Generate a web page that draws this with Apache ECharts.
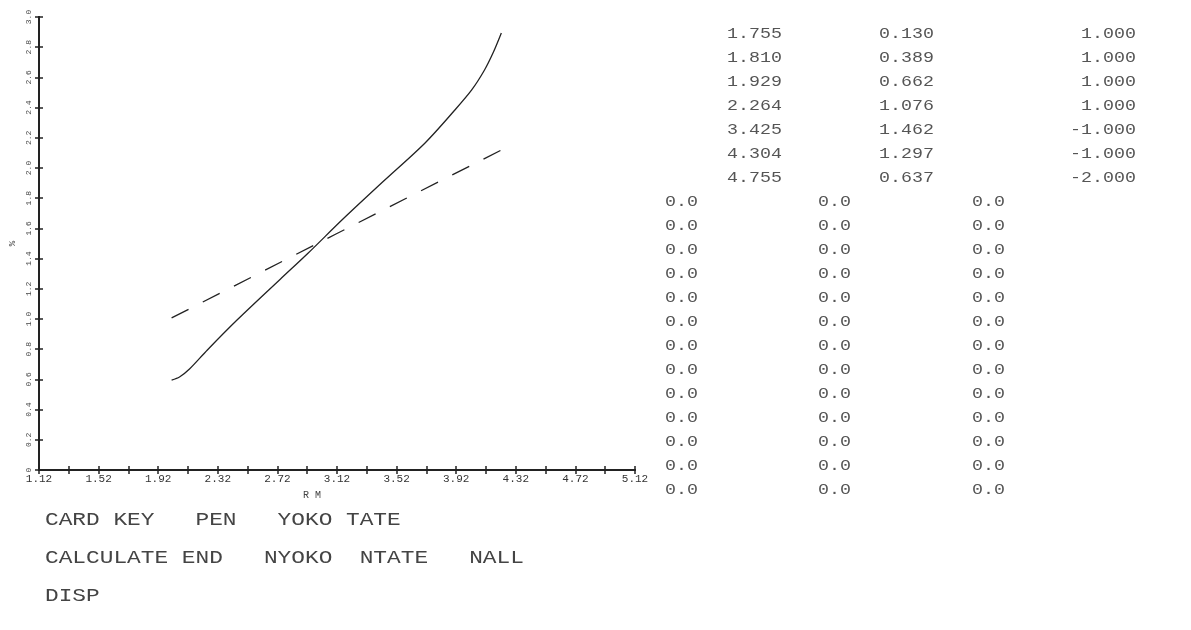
<!DOCTYPE html>
<html>
<head>
<meta charset="utf-8">
<script src="https://cdn.jsdelivr.net/npm/echarts@6/dist/echarts.min.js"></script>
<style>
  html, body {margin: 0; padding: 0; background: #fff;}
  #chart {width: 1191px; height: 630px;}
</style>
</head>
<body>
<div id="chart"></div>
<script>
var xTicks = [1.12, 1.32, 1.52, 1.72, 1.92, 2.12, 2.32, 2.52, 2.72, 2.92, 3.12,
              3.32, 3.52, 3.72, 3.92, 4.12, 4.32, 4.52, 4.72, 4.92, 5.12];
var xLabels = [1.12, 1.52, 1.92, 2.32, 2.72, 3.12, 3.52, 3.92, 4.32, 4.72, 5.12];

// solid curve
var solidX = [2.010, 2.063, 2.130, 2.250, 2.449, 2.741, 2.927, 3.160, 3.426, 3.711, 3.911, 4.024, 4.110, 4.170, 4.223];
var solidY = [0.596, 0.616, 0.669, 0.795, 0.993, 1.265, 1.437, 1.662, 1.907, 2.166, 2.384, 2.517, 2.649, 2.768, 2.894];
// dashed line
var dashX = [2.010, 3.113, 4.223];
var dashY = [1.007, 1.563, 2.119];

// printed table on the right
var colA = ['1.755', '1.810', '1.929', '2.264', '3.425', '4.304', '4.755'];
var colB = ['0.130', '0.389', '0.662', '1.076', '1.462', '1.297', '0.637'];
var colC = ['1.000', '1.000', '1.000', '1.000', '-1.000', '-1.000', '-2.000'];
var zeroRows = 13;

var footLines = ['CARD KEY   PEN   YOKO TATE', 'CALCULATE END   NYOKO  NTATE   NALL', 'DISP'];

var ink = '#222';
var mono = 'Liberation Mono';

function pairs(xs, ys) {
    return xs.map(function (x, i) { return [x, ys[i]]; });
}

var solidData = pairs(solidX, solidY);
solidData[solidData.length - 1] = {
    value: solidData[solidData.length - 1],
    label: {show: true, formatter: '9', position: 'right', distance: 10, offset: [0, -3],
        fontFamily: mono, fontSize: 15, color: '#444'}
};

// table text
var graphics = [];
var rowTop = 34, rowStep = 24;
function tableText(txt, x, y, align) {
    graphics.push({
        type: 'text', x: x, y: y, scaleX: 1.22,
        style: {text: txt, font: '15px "' + mono + '"', fill: '#555',
            textAlign: align, textVerticalAlign: 'middle', align: align, verticalAlign: 'middle'}
    });
}
colA.forEach(function (v, i) {
    var y = rowTop + i * rowStep;
    tableText(v, 782, y, 'right');
    tableText(colB[i], 934, y, 'right');
    tableText(colC[i], 1136, y, 'right');
});
for (var r = 0; r < zeroRows; r++) {
    var y0 = rowTop + (colA.length + r) * rowStep;
    tableText('0.0', 665, y0, 'left');
    tableText('0.0', 818, y0, 'left');
    tableText('0.0', 972, y0, 'left');
}
footLines.forEach(function (t, i) {
    graphics.push({
        type: 'text', x: 45, y: 520 + i * 38, scaleX: 1.2,
        style: {text: t, font: '19px "' + mono + '"', fill: '#444',
            textAlign: 'left', textVerticalAlign: 'middle', align: 'left', verticalAlign: 'middle'}
    });
});

function xAxisDef(inside, showLabel) {
    return {
        type: 'value', min: 1.12, max: 5.12, position: 'bottom',
        name: showLabel ? 'R M' : '', nameLocation: 'middle', nameGap: 20,
        nameTextStyle: {fontFamily: mono, fontSize: 10, color: '#444', padding: [0, 50, 0, 0]},
        axisLine: {show: true, lineStyle: {color: ink, width: 2}},
        axisTick: {show: true, inside: inside, length: 4, customValues: xTicks, lineStyle: {color: ink, width: 1.5}},
        axisLabel: {show: showLabel, customValues: xLabels, margin: 4, fontFamily: mono, fontSize: 11, color: '#333',
            formatter: function (v) { return v.toFixed(2); }},
        splitLine: {show: false}
    };
}
function yAxisDef(inside, showLabel) {
    return {
        type: 'value', min: 0, max: 3, interval: 0.2, position: 'left',
        name: showLabel ? '%' : '', nameLocation: 'middle', nameGap: 22, nameRotate: 90,
        nameTextStyle: {fontFamily: mono, fontSize: 9, color: '#444'},
        axisLine: {show: true, lineStyle: {color: ink, width: 2}},
        axisTick: {show: true, inside: inside, length: 4, lineStyle: {color: ink, width: 1.5}},
        axisLabel: {show: showLabel, rotate: 90, margin: 6, fontFamily: mono, fontSize: 8, color: '#444',
            formatter: function (v) { return v === 0 ? '0' : v.toFixed(1); }},
        splitLine: {show: false}
    };
}

var chart = echarts.init(document.getElementById('chart'), null, {renderer: 'canvas'});
chart.setOption({
    backgroundColor: '#fff',
    animation: false,
    grid: {left: 33, right: 556, top: 17, bottom: 160, containLabel: false},
    xAxis: [xAxisDef(false, true), xAxisDef(true, false)],
    yAxis: [yAxisDef(false, true), yAxisDef(true, false)],
    series: [
        {
            type: 'line', name: 'solid', data: solidData, smooth: 0.3, symbol: 'none', showSymbol: false,
            lineStyle: {color: ink, width: 1.3, type: 'solid'}
        },
        {
            type: 'line', name: 'dashed', data: pairs(dashX, dashY), symbol: 'none', showSymbol: false,
            lineStyle: {color: ink, width: 1.3, type: [19, 16]}
        }
    ],
    graphic: graphics
});
</script>
</body>
</html>
